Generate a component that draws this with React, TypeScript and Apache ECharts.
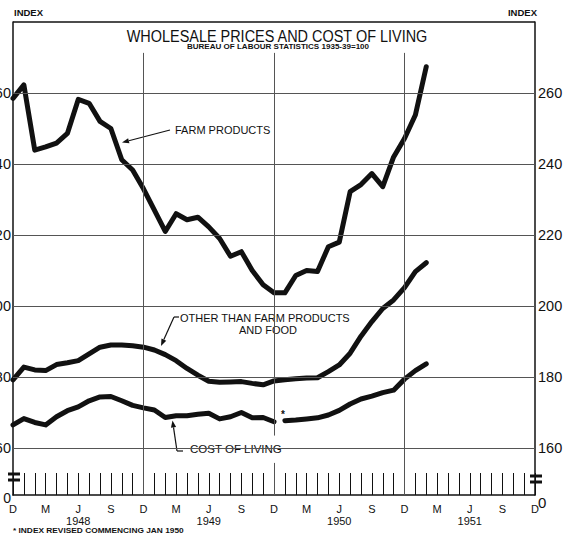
import React, { useEffect, useRef } from "react";
import * as echarts from "echarts";

// Months from Dec 1947 to Dec 1951
const monthLetters = ["J", "F", "M", "A", "M", "J", "J", "A", "S", "O", "N", "D"];
const categories: string[] = [];
for (let k = 0; k <= 48; k++) {
  const m = (11 + k) % 12;
  const y = 1947 + Math.floor((11 + k) / 12);
  categories.push(`${y}-${String(m + 1).padStart(2, "0")}`);
}
const shownMonths = [2, 5, 8, 11]; // M, J, S, D
const yearLabels: Record<string, string> = {
  "1948-06": "1948",
  "1949-06": "1949",
  "1950-06": "1950",
  "1951-06": "1951",
};

// Index values (1935-39 = 100), Dec 1947 onwards
const farmProducts = [
  258.5, 262.3, 243.9, 244.8, 245.9, 248.6, 258.2, 257.1, 252, 250, 241.2, 238.3,
  233, 227, 221, 226, 224.3, 225, 222.3, 219, 214, 215.3, 210, 206,
  203.7, 203.7, 208.6, 210, 209.7, 216.7, 218, 232.2, 234.2, 237.3, 233.6, 242,
  247.2, 253.8, 267.4,
];
const otherThanFarmAndFood = [
  179.2, 182.8, 182, 181.8, 183.5, 184, 184.6, 186.5, 188.4, 189, 189, 188.8,
  188.4, 187.6, 186.3, 184.6, 182.4, 180.5, 178.8, 178.5, 178.6, 178.7, 178.2, 177.8,
  178.9, 179.2, 179.5, 179.7, 179.8, 181.5, 183.4, 186.7, 191.5, 195.6, 199.3, 201.7,
  205.2, 209.7, 212.2,
];
const costOfLivingOld = [
  166.5, 168.3, 167.2, 166.5, 168.8, 170.5, 171.6, 173.3, 174.4, 174.5, 173.3, 172,
  171.3, 170.7, 168.6, 169.1, 169.1, 169.5, 169.8, 168.2, 168.8, 170, 168.5, 168.6,
  167.4,
];
const costOfLivingRevisedStart = 25; // Jan 1950
const costOfLivingRevised = [
  167.7, 167.9, 168.2, 168.5, 169.3, 170.6, 172.4, 173.8, 174.6, 175.6, 176.3,
  179.4, 181.8, 183.7,
];

const gridValues = [160, 180, 200, 220, 240, 260];
const Y_MAX = 280;
const Y_MIN = 146.76; // shown as "0" below the scale break
const FONT = "'Liberation Sans', Arial, sans-serif";
const INK = "#111";
const GRID = "#555";

function arrow(x1: number, y1: number, x2: number, y2: number, head = 7, halfW = 2.6) {
  const dx = x2 - x1, dy = y2 - y1;
  const L = Math.hypot(dx, dy);
  const ux = dx / L, uy = dy / L;
  const bx = x2 - ux * head, by = y2 - uy * head;
  const nx = -uy * halfW, ny = ux * halfW;
  return [
    { type: "line", shape: { x1, y1, x2: bx, y2: by }, style: { stroke: INK, lineWidth: 1.2 } },
    { type: "polygon", shape: { points: [[x2, y2], [bx + nx, by + ny], [bx - nx, by - ny]] }, style: { fill: INK } },
  ];
}

function txt(x: number, y: number, text: string, size: number, opts: any = {}) {
  const { align = "left", weight = "normal", scaleX = 1 } = opts;
  return {
    type: "text",
    x,
    y,
    scaleX,
    style: {
      text,
      fill: INK,
      font: `${weight} ${size}px ${FONT}`,
      textAlign: align,
      textVerticalAlign: "middle",
    },
  };
}

export default function App() {
  const ref = useRef<HTMLDivElement>(null);
  useEffect(() => {
    if (!ref.current) return;
    const chart = echarts.init(ref.current, undefined, { renderer: "svg" });

    const lineStyle = { width: 5, color: INK, join: "round", cap: "round" };
    const labelFmt = (v: number) => (v < 150 ? "{z|0}" : String(v));

    const vline = (cat: string, from: number, to: number) => [
      { coord: [cat, from] },
      { coord: [cat, to] },
    ];

    chart.setOption({
      animation: false,
      backgroundColor: "#fff",
      grid: { left: 13, right: 39, top: 22, bottom: 41, containLabel: false, outerBoundsMode: "none" },
      xAxis: {
        type: "category",
        data: categories,
        boundaryGap: false,
        axisLine: { show: true, lineStyle: { color: INK, width: 1.5 } },
        axisTick: { show: true, inside: true, length: 22, interval: 0, lineStyle: { color: INK, width: 1 } },
        axisLabel: {
          interval: 0,
          margin: 8,
          color: INK,
          fontFamily: FONT,
          fontSize: 11,
          lineHeight: 12,
          formatter: (val: string) => {
            const m = parseInt(val.slice(5), 10) - 1;
            if (!shownMonths.includes(m)) return "";
            const letter = monthLetters[m];
            return yearLabels[val] ? `${letter}\n${yearLabels[val]}` : letter;
          },
        },
        splitLine: { show: false },
      },
      yAxis: [
        {
          type: "value",
          min: Y_MIN,
          max: Y_MAX,
          position: "left",
          axisLine: { show: true, lineStyle: { color: INK, width: 1.5 } },
          axisTick: { show: false },
          splitLine: { show: false },
          axisLabel: {
            customValues: [Y_MIN, ...gridValues],
            formatter: labelFmt,
            margin: 2,
            color: INK,
            fontFamily: FONT,
            fontSize: 14.5,
            rich: { z: { fontSize: 14, fontFamily: FONT, color: INK, padding: [6, 0, 0, 0] } },
          },
        },
        {
          type: "value",
          min: Y_MIN,
          max: Y_MAX,
          position: "right",
          axisLine: { show: true, lineStyle: { color: INK, width: 1.5 } },
          axisTick: { show: false },
          splitLine: { show: false },
          axisLabel: {
            customValues: [Y_MIN, ...gridValues],
            formatter: labelFmt,
            margin: 3,
            color: INK,
            fontFamily: FONT,
            fontSize: 14.5,
            rich: { z: { fontSize: 15, fontFamily: FONT, color: INK, padding: [14, 0, 0, 0] } },
          },
        },
      ],
      series: [
        {
          type: "line",
          data: [],
          z: 1,
          silent: true,
          markLine: {
            silent: true,
            symbol: ["none", "none"],
            label: { show: false },
            emphasis: { disabled: true },
            lineStyle: { color: GRID, width: 1, type: "solid" },
            data: [
              ...gridValues.map((v) => ({ yAxis: v })),
              { yAxis: Y_MAX, lineStyle: { color: INK, width: 1.5, type: "solid" } },
              vline("1948-12", 271.3, Y_MIN),
              vline("1950-12", 271.3, Y_MIN),
              vline("1949-12", 271.3, 163.5),
              vline("1949-12", 155.8, Y_MIN),
            ],
          },
        },
        {
          name: "Farm products",
          type: "line",
          data: farmProducts,
          symbol: "none",
          lineStyle,
          z: 3,
          emphasis: { disabled: true },
        },
        {
          name: "Other than farm products and food",
          type: "line",
          data: otherThanFarmAndFood,
          symbol: "none",
          lineStyle,
          z: 3,
          emphasis: { disabled: true },
        },
        {
          name: "Cost of living",
          type: "line",
          data: costOfLivingOld,
          symbol: "none",
          lineStyle,
          z: 3,
          emphasis: { disabled: true },
        },
        {
          name: "Cost of living (revised)",
          type: "line",
          data: costOfLivingRevised.map((v, k) => [categories[costOfLivingRevisedStart + k], v]),
          symbol: "none",
          lineStyle,
          z: 3,
          emphasis: { disabled: true },
        },
      ],
      graphic: [
        txt(14, 12, "INDEX", 9.5, { weight: "bold" }),
        txt(537, 12, "INDEX", 9.5, { weight: "bold", align: "right" }),
        txt(277, 36, "WHOLESALE PRICES AND COST OF LIVING", 17, { align: "center", scaleX: 0.85 }),
        txt(278, 47, "BUREAU OF LABOUR STATISTICS 1935-39=100", 7, { align: "center", weight: "bold", scaleX: 1.15 }),
        // Farm products label
        txt(175, 130, "FARM PRODUCTS", 11),
        ...arrow(170, 130, 122, 142.5),
        // Other than farm products label
        { type: "rect", shape: { x: 178, y: 311, width: 178, height: 26 }, style: { fill: "#fff" } },
        txt(180, 318, "OTHER THAN FARM PRODUCTS", 11),
        txt(268, 330, "AND FOOD", 11, { align: "center" }),
        { type: "polyline", shape: { points: [[179, 317], [174, 317]] }, style: { stroke: INK, lineWidth: 1.2, fill: "none" } },
        ...arrow(174, 317, 161, 346),
        // Cost of living label
        { type: "rect", shape: { x: 165, y: 443, width: 127, height: 13 }, style: { fill: "#fff" } },
        txt(190, 449, "COST OF LIVING", 11.5),
        { type: "polyline", shape: { points: [[183, 451], [177, 451]] }, style: { stroke: INK, lineWidth: 1.2, fill: "none" } },
        ...arrow(177, 451, 172.5, 420.5),
        // revision asterisk
        txt(283, 414, "*", 10, { weight: "bold", align: "center" }),
        // scale-break marks
        { type: "rect", shape: { x: 8, y: 472.5, width: 12, height: 3 }, style: { fill: INK } },
        { type: "rect", shape: { x: 8, y: 478.5, width: 12, height: 3 }, style: { fill: INK } },
        { type: "rect", shape: { x: 530, y: 474.5, width: 12, height: 3 }, style: { fill: INK } },
        { type: "rect", shape: { x: 530, y: 480.5, width: 12, height: 3 }, style: { fill: INK } },
        // footnote
        txt(13, 531, "* INDEX REVISED COMMENCING JAN 1950", 7, { weight: "bold", scaleX: 1.19 }),
      ],
    });
    return () => chart.dispose();
  }, []);

  return (
    <div
      ref={ref}
      style={{ position: "fixed", left: 0, top: 0, width: 574, height: 536, background: "#fff" }}
    />
  );
}
